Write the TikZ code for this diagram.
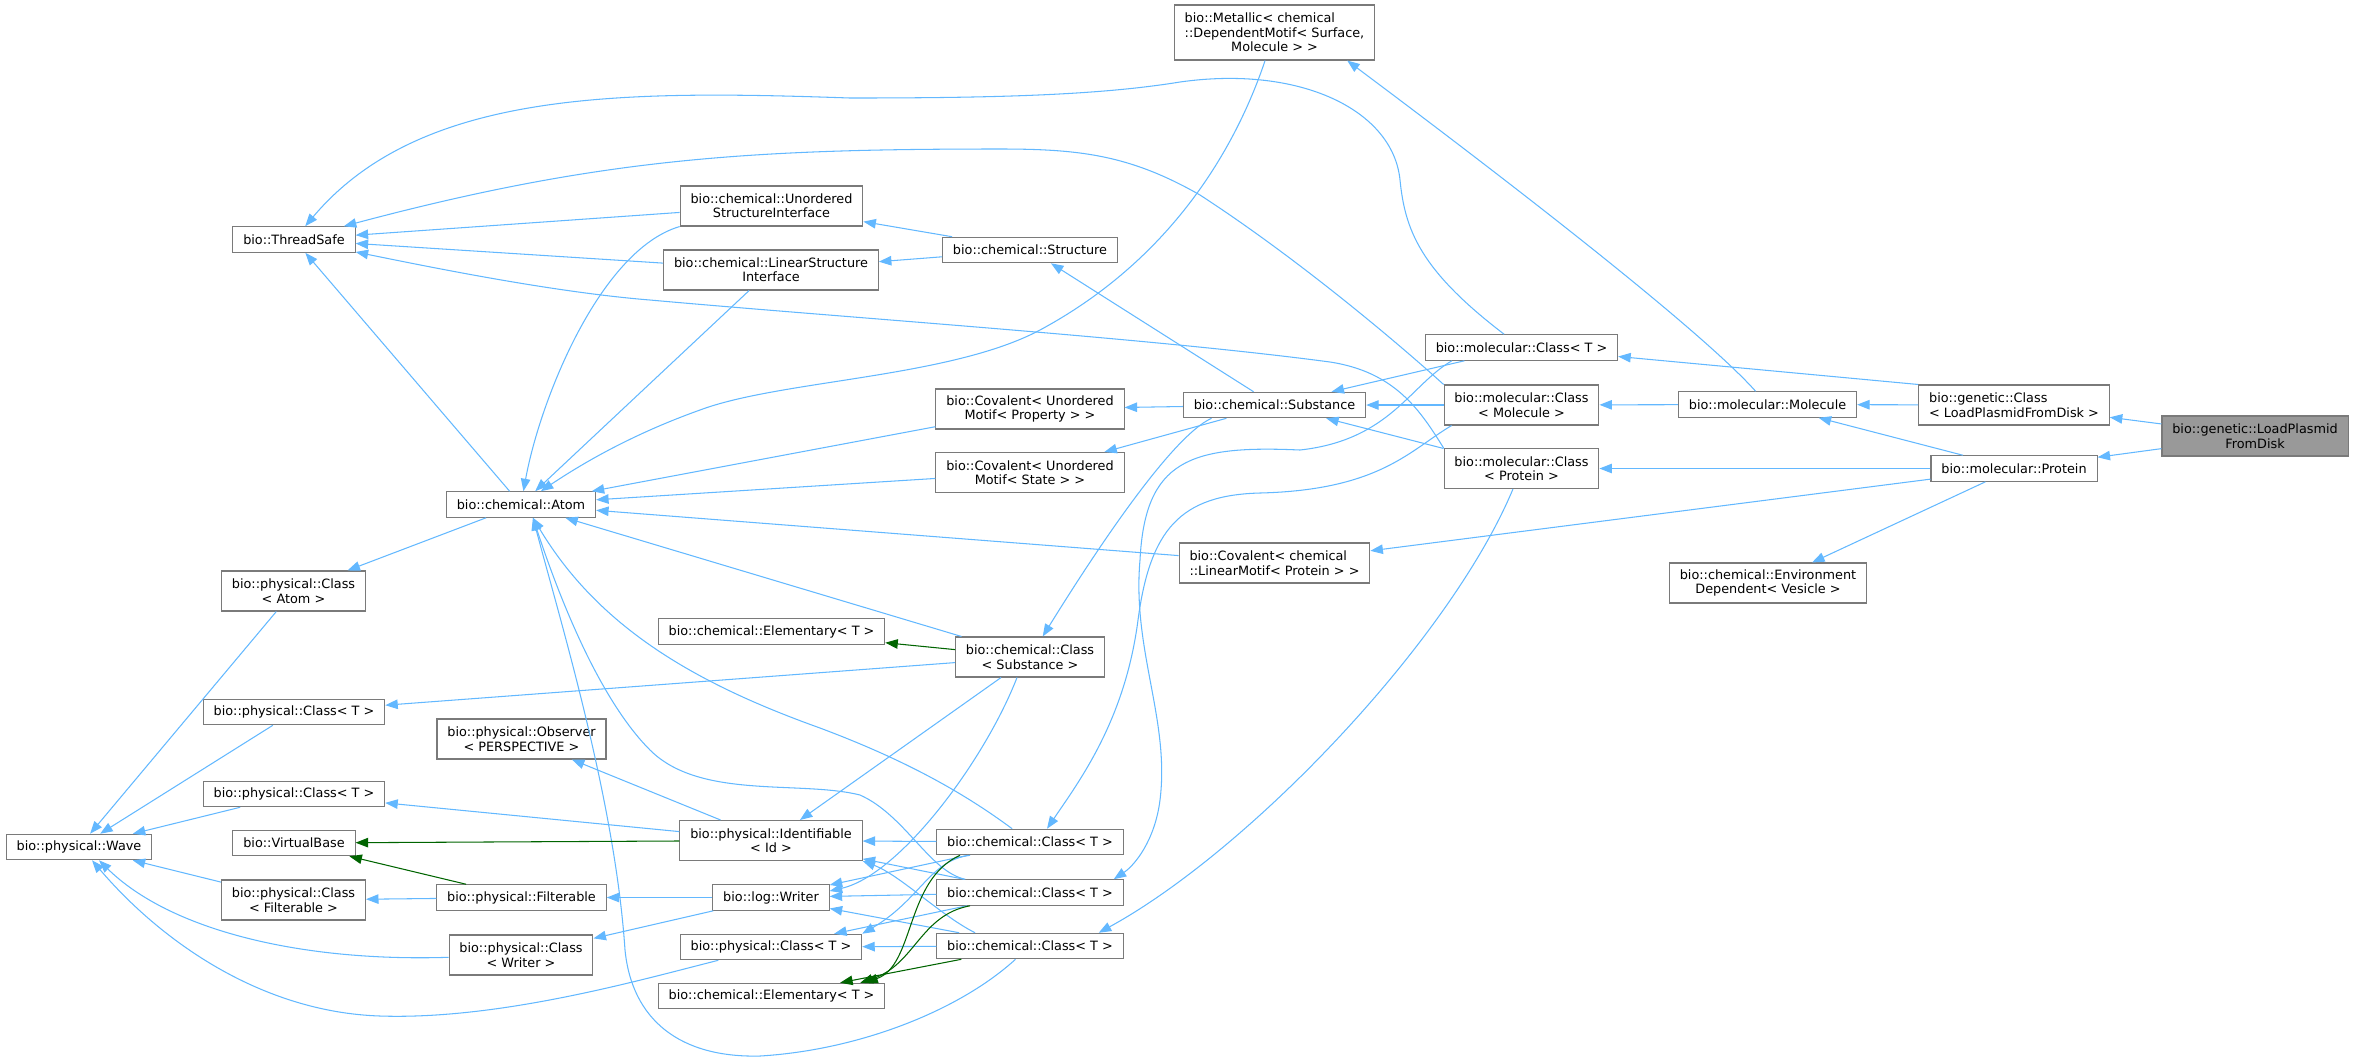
\documentclass[tikz,border=0pt]{standalone}
\usepackage{fontspec}
\setmainfont{DejaVu Sans}
\usetikzlibrary{arrows.meta}
\definecolor{edgeblue}{HTML}{63B8FF}
\definecolor{edgegreen}{HTML}{006400}
\definecolor{boxline}{HTML}{7A7A7A}
\definecolor{boxfill}{HTML}{999999}
\newcommand{\firstleft}[2]{\setbox0\hbox{#2}\makebox[\wd0][l]{#1}\\#2}
\tikzset{
  cls/.style={draw=boxline, line width=0.6pt, font=\fontsize{7.3}{8.2}\selectfont, align=center, inner xsep=5.9pt, inner ysep=1pt, minimum height=5.1mm},
  cls2/.style={cls, minimum height=8mm},
  cls3/.style={cls, minimum height=11mm},
  cur/.style={fill=boxfill},
  inh/.style={color=edgeblue, draw, line width=0.6pt},
  prot/.style={color=edgegreen, draw, line width=0.6pt},
}
\begin{document}
\begin{tikzpicture}[x=0.2mm, y=-0.2mm, >={Triangle[length=2.5mm, width=1.9mm]}]
\useasboundingbox (0,0) rectangle (2356,1063);

\node[cls] (ts) at (294, 239.5) {bio::ThreadSafe};
\node[cls3] (metal) at (1274.5, 32.5) {\firstleft{bio::Metallic< chemical}{::DependentMotif< Surface,}\\Molecule > >};
\node[cls2] (usi) at (771.5, 206) {bio::chemical::Unordered\\StructureInterface};
\node[cls2] (lsi) at (771, 270) {bio::chemical::LinearStructure\\Interface};
\node[cls] (struct) at (1030, 250) {bio::chemical::Structure};

\node[cls] (molT) at (1521.5, 347.5) {bio::molecular::Class< T >};
\node[cls2] (covprop) at (1030, 409) {bio::Covalent< Unordered\\Motif< Property > >};
\node[cls] (subst) at (1274.5, 405) {bio::chemical::Substance};
\node[cls2] (molmol) at (1521.5, 405) {bio::molecular::Class\\< Molecule >};
\node[cls] (molecule) at (1767.5, 404.5) {bio::molecular::Molecule};
\node[cls2] (genlp) at (2014, 405) {\firstleft{bio::genetic::Class}{< LoadPlasmidFromDisk >}};
\node[cls2, cur] (lpfd) at (2255, 436) {bio::genetic::LoadPlasmid\\FromDisk};
\node[cls] (protein) at (2014, 468.5) {bio::molecular::Protein};
\node[cls2] (covstate) at (1030, 472.5) {bio::Covalent< Unordered\\Motif< State > >};
\node[cls2] (molprot) at (1521.5, 468.5) {bio::molecular::Class\\< Protein >};

\node[cls] (atom) at (521, 504.5) {bio::chemical::Atom};
\node[cls2] (covlin) at (1274.5, 563) {\firstleft{bio::Covalent< chemical}{::LinearMotif< Protein > >}};
\node[cls2] (envdep) at (1768, 583) {bio::chemical::Environment\\Dependent< Vesicle >};
\node[cls2] (phatom) at (293.5, 591) {bio::physical::Class\\< Atom >};
\node[cls] (elemup) at (771.5, 631.5) {bio::chemical::Elementary< T >};
\node[cls2] (chsubst) at (1030, 657) {bio::chemical::Class\\< Substance >};
\node[cls] (phTa) at (294, 712) {bio::physical::Class< T >};
\node[cls2] (observer) at (521.5, 739) {bio::physical::Observer\\< PERSPECTIVE >};
\node[cls] (phTb) at (294, 794) {bio::physical::Class< T >};

\node[cls2] (ident) at (771, 840.5) {bio::physical::Identifiable\\< Id >};
\node[cls] (chTa) at (1030, 842) {bio::chemical::Class< T >};
\node[cls] (vbase) at (294, 843) {bio::VirtualBase};
\node[cls] (wave) at (79, 847) {bio::physical::Wave};
\node[cls2] (phfilt) at (293.5, 900) {bio::physical::Class\\< Filterable >};
\node[cls] (filt) at (521.5, 897.5) {bio::physical::Filterable};
\node[cls] (writer) at (771, 897.5) {bio::log::Writer};
\node[cls] (chTb) at (1030, 892.5) {bio::chemical::Class< T >};
\node[cls2] (phwriter) at (521, 955) {bio::physical::Class\\< Writer >};
\node[cls] (phTc) at (771, 947) {bio::physical::Class< T >};
\node[cls] (chTc) at (1030, 946) {bio::chemical::Class< T >};
\node[cls] (elemlo) at (771.5, 996) {bio::chemical::Elementary< T >};

\draw[inh, ->] (molT) .. controls (1420,270) and (1405,230) .. (1400,180) .. controls (1393,110) and (1300,65) .. (1180,82) .. controls (1100,95) and (1000,98) .. (850,98) .. controls (620,90) and (420,90) .. (ts);
\draw[inh, ->] (molmol.north west) .. controls (1400,345) and (1300,260) .. (1200,195) .. controls (1130,155) and (1080,149) .. (1000,149) .. controls (750,149) and (600,158) .. (ts);
\draw[inh, ->] (molprot.north west) .. controls (1420,410) and (1395,372) .. (1330,362) .. controls (1150,338) and (850,318) .. (650,300) .. controls (550,292) and (420,265) .. (ts);
\path[inh, ->] (usi) edge (ts) (lsi) edge (ts) (atom) edge (ts);

\path[inh, ->] (struct) edge (usi) (struct) edge (lsi) (subst) edge (struct);

\draw[inh, ->] (usi.south west) .. controls (600,250) and (540,400) .. (atom);
\path[inh, ->] (lsi) edge (atom);
\draw[inh, ->] (metal) .. controls (1235,150) and (1170,260) .. (1040,330) .. controls (950,378) and (780,380) .. (700,410) .. controls (630,435) and (580,465) .. (atom);
\path[inh, ->] (covprop) edge (atom) (covstate) edge (atom) (covlin) edge (atom);
\path[inh, ->] (chsubst) edge (atom) (atom) edge (phatom);
\draw[inh, ->] (chTa) .. controls (960,790) and (900,758) .. (820,728) .. controls (700,685) and (600,630) .. ([xshift=2.4mm]atom.south);
\draw[inh, ->] (chTb) .. controls (930,872) and (905,815) .. (860,795) .. controls (800,780) and (700,800) .. (650,750) .. controls (600,700) and (560,600) .. ([xshift=2.4mm]atom.south);
\draw[inh, ->] (chTc) .. controls (960,1010) and (860,1050) .. (760,1056) .. controls (680,1058) and (632,1020) .. (625,950) .. controls (615,800) and (560,620) .. ([xshift=2.4mm]atom.south);

\path[inh, ->] (phatom) edge (wave) (phTa) edge (wave) (phTb) edge (wave) (phfilt) edge (wave);
\draw[inh, ->] (phwriter) .. controls (300,962) and (170,930) .. ([xshift=4mm]wave.south);
\draw[inh, ->] (phTc) .. controls (640,980) and (500,1020) .. (380,1016) .. controls (260,1012) and (160,940) .. ([xshift=2.6mm]wave.south);

\path[inh, ->] (chsubst) edge (phTa) (ident) edge (phTb) (ident) edge (observer);
\path[prot, ->] (ident) edge (vbase) (filt) edge (vbase);
\path[inh, ->] (filt) edge (phfilt) (writer) edge (filt) (writer) edge (phwriter);

\path[prot, ->] (chsubst) edge (elemup);
\draw[inh, ->] ([xshift=-12.6mm]subst.south) .. controls (1170,437) and (1090,560) .. (chsubst);
\path[inh, ->] (chsubst) edge (ident);
\draw[inh, ->] ([xshift=-2.6mm]chsubst.south) .. controls (985,760) and (900,875) .. ([yshift=1.3mm]writer.east);

\path[inh, ->] (chTa) edge (ident) (chTb) edge (ident);
\draw[inh, ->] ([xshift=-11mm]chTc.north) .. controls (940,915) and (900,875) .. (ident.south east);
\path[inh, ->] (chTa) edge (writer) (chTb) edge (writer) (chTc) edge (writer);
\draw[inh, ->] ([xshift=-12mm]chTa.south) .. controls (930,860) and (920,900) .. (phTc.north east);
\path[inh, ->] (chTb) edge (phTc) (chTc) edge (phTc);
\draw[prot, ->] ([xshift=-14mm]chTa.south) .. controls (905,880) and (915,965) .. ([xshift=-4mm]elemlo.north east);
\draw[prot, ->] ([xshift=-12mm]chTb.south) .. controls (920,915) and (915,965) .. ([xshift=-5mm]elemlo.north east);
\path[prot, ->] (chTc) edge (elemlo);

\draw[inh, ->] (molprot) .. controls (1450,640) and (1250,850) .. ([xshift=-5mm]chTc.north east);
\draw[inh, ->] ([xshift=5.4mm]molT.south west) .. controls (1410,385) and (1390,440) .. (1300,450) .. controls (1190,445) and (1145,460) .. (1140,560) .. controls (1132,650) and (1170,720) .. (1160,800) .. controls (1155,840) and (1135,865) .. ([xshift=-2mm]chTb.north east);
\draw[inh, ->] ([xshift=1.6mm]molmol.south west) .. controls (1410,450) and (1380,490) .. (1260,493) .. controls (1180,495) and (1150,530) .. (1138,620) .. controls (1125,720) and (1080,780) .. ([xshift=3.4mm]chTa.north);

\path[inh, ->] (molT) edge (subst) (molmol) edge (subst) (molprot) edge (subst);
\path[inh, ->] (subst) edge (covprop) (subst) edge (covstate);
\draw[inh, ->] (genlp.north west) -- (molT);
\path[inh, ->] (molecule) edge (molmol) (genlp) edge (molecule) (protein) edge (molecule);
\path[inh, ->] (protein) edge (molprot) (protein) edge (covlin) (protein) edge (envdep);
\path[inh, ->] (lpfd) edge (genlp) (lpfd) edge (protein);
\draw[inh, ->] (molecule) .. controls (1690,318) and (1440,130) .. ([xshift=-5.6mm]metal.south east);
\end{tikzpicture}
\end{document}
